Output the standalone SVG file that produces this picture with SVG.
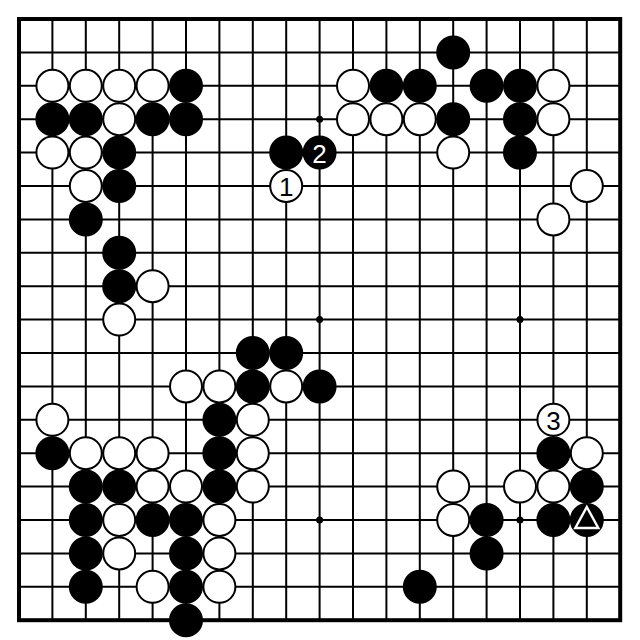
<svg xmlns="http://www.w3.org/2000/svg" width="640" height="640" viewBox="0 0 640 640">
<style>
.ln{stroke:#000;stroke-width:2;fill:none}
.bd{stroke:#000;stroke-width:4;fill:none}
.b{fill:#000;stroke:#000;stroke-width:2}
.w{fill:#fff;stroke:#000;stroke-width:2}
.t{font-family:"Liberation Sans","DejaVu Sans",sans-serif;font-size:26px;text-anchor:middle;dominant-baseline:central}
</style>
<rect width="640" height="640" fill="#fff"/>
<g id="board" transform="translate(19 19)">
<path class="ln" d="M0 33.4H601.2M0 66.8H601.2M0 100.2H601.2M0 133.6H601.2M0 167H601.2M0 200.4H601.2M0 233.8H601.2M0 267.2H601.2M0 300.6H601.2M0 334H601.2M0 367.4H601.2M0 400.8H601.2M0 434.2H601.2M0 467.6H601.2M0 501H601.2M0 534.4H601.2M0 567.8H601.2
M33.4 0V601.2M66.8 0V601.2M100.2 0V601.2M133.6 0V601.2M167 0V601.2M200.4 0V601.2M233.8 0V601.2M267.2 0V601.2M300.6 0V601.2M334 0V601.2M367.4 0V601.2M400.8 0V601.2M434.2 0V601.2M467.6 0V601.2M501 0V601.2M534.4 0V601.2M567.8 0V601.2"/>
<rect class="bd" x="0" y="0" width="601.2" height="601.2"/>
<g id="stars" fill="#000">
<circle cx="100.2" cy="100.2" r="3.5"/><circle cx="300.6" cy="100.2" r="3.5"/><circle cx="501" cy="100.2" r="3.5"/>
<circle cx="100.2" cy="300.6" r="3.5"/><circle cx="300.6" cy="300.6" r="3.5"/><circle cx="501" cy="300.6" r="3.5"/>
<circle cx="100.2" cy="501" r="3.5"/><circle cx="300.6" cy="501" r="3.5"/><circle cx="501" cy="501" r="3.5"/>
</g>
<g id="black-stones">
<circle class="b" cx="434.2" cy="33.4" r="16"/>
<circle class="b" cx="167" cy="66.8" r="16"/><circle class="b" cx="367.4" cy="66.8" r="16"/><circle class="b" cx="400.8" cy="66.8" r="16"/><circle class="b" cx="467.6" cy="66.8" r="16"/><circle class="b" cx="501" cy="66.8" r="16"/>
<circle class="b" cx="33.4" cy="100.2" r="16"/><circle class="b" cx="66.8" cy="100.2" r="16"/><circle class="b" cx="133.6" cy="100.2" r="16"/><circle class="b" cx="167" cy="100.2" r="16"/><circle class="b" cx="434.2" cy="100.2" r="16"/><circle class="b" cx="501" cy="100.2" r="16"/>
<circle class="b" cx="100.2" cy="133.6" r="16"/><circle class="b" cx="267.2" cy="133.6" r="16"/><circle class="b" cx="501" cy="133.6" r="16"/>
<circle class="b" cx="100.2" cy="167" r="16"/>
<circle class="b" cx="66.8" cy="200.4" r="16"/>
<circle class="b" cx="100.2" cy="233.8" r="16"/>
<circle class="b" cx="100.2" cy="267.2" r="16"/>
<circle class="b" cx="233.8" cy="334" r="16"/><circle class="b" cx="267.2" cy="334" r="16"/>
<circle class="b" cx="233.8" cy="367.4" r="16"/><circle class="b" cx="300.6" cy="367.4" r="16"/>
<circle class="b" cx="200.4" cy="400.8" r="16"/>
<circle class="b" cx="33.4" cy="434.2" r="16"/><circle class="b" cx="200.4" cy="434.2" r="16"/><circle class="b" cx="534.4" cy="434.2" r="16"/>
<circle class="b" cx="66.8" cy="467.6" r="16"/><circle class="b" cx="100.2" cy="467.6" r="16"/><circle class="b" cx="200.4" cy="467.6" r="16"/><circle class="b" cx="567.8" cy="467.6" r="16"/>
<circle class="b" cx="66.8" cy="501" r="16"/><circle class="b" cx="133.6" cy="501" r="16"/><circle class="b" cx="167" cy="501" r="16"/><circle class="b" cx="467.6" cy="501" r="16"/><circle class="b" cx="534.4" cy="501" r="16"/>
<circle class="b" cx="66.8" cy="534.4" r="16"/><circle class="b" cx="167" cy="534.4" r="16"/><circle class="b" cx="467.6" cy="534.4" r="16"/>
<circle class="b" cx="66.8" cy="567.8" r="16"/><circle class="b" cx="167" cy="567.8" r="16"/><circle class="b" cx="400.8" cy="567.8" r="16"/>
<circle class="b" cx="167" cy="601.2" r="16"/>
</g>
<g id="white-stones">
<circle class="w" cx="33.4" cy="66.8" r="16"/><circle class="w" cx="66.8" cy="66.8" r="16"/><circle class="w" cx="100.2" cy="66.8" r="16"/><circle class="w" cx="133.6" cy="66.8" r="16"/><circle class="w" cx="334" cy="66.8" r="16"/><circle class="w" cx="534.4" cy="66.8" r="16"/>
<circle class="w" cx="100.2" cy="100.2" r="16"/><circle class="w" cx="334" cy="100.2" r="16"/><circle class="w" cx="367.4" cy="100.2" r="16"/><circle class="w" cx="400.8" cy="100.2" r="16"/><circle class="w" cx="534.4" cy="100.2" r="16"/>
<circle class="w" cx="33.4" cy="133.6" r="16"/><circle class="w" cx="66.8" cy="133.6" r="16"/><circle class="w" cx="434.2" cy="133.6" r="16"/>
<circle class="w" cx="66.8" cy="167" r="16"/><circle class="w" cx="567.8" cy="167" r="16"/>
<circle class="w" cx="534.4" cy="200.4" r="16"/>
<circle class="w" cx="133.6" cy="267.2" r="16"/>
<circle class="w" cx="100.2" cy="300.6" r="16"/>
<circle class="w" cx="167" cy="367.4" r="16"/><circle class="w" cx="200.4" cy="367.4" r="16"/><circle class="w" cx="267.2" cy="367.4" r="16"/>
<circle class="w" cx="33.4" cy="400.8" r="16"/><circle class="w" cx="233.8" cy="400.8" r="16"/>
<circle class="w" cx="66.8" cy="434.2" r="16"/><circle class="w" cx="100.2" cy="434.2" r="16"/><circle class="w" cx="133.6" cy="434.2" r="16"/><circle class="w" cx="233.8" cy="434.2" r="16"/><circle class="w" cx="567.8" cy="434.2" r="16"/>
<circle class="w" cx="133.6" cy="467.6" r="16"/><circle class="w" cx="167" cy="467.6" r="16"/><circle class="w" cx="233.8" cy="467.6" r="16"/><circle class="w" cx="434.2" cy="467.6" r="16"/><circle class="w" cx="501" cy="467.6" r="16"/><circle class="w" cx="534.4" cy="467.6" r="16"/>
<circle class="w" cx="100.2" cy="501" r="16"/><circle class="w" cx="200.4" cy="501" r="16"/><circle class="w" cx="434.2" cy="501" r="16"/>
<circle class="w" cx="100.2" cy="534.4" r="16"/><circle class="w" cx="200.4" cy="534.4" r="16"/>
<circle class="w" cx="133.6" cy="567.8" r="16"/><circle class="w" cx="200.4" cy="567.8" r="16"/>
</g>
<g id="move-1"><circle class="w" cx="267.2" cy="167" r="16"/><text class="t" x="267.2" y="168" fill="#000">1</text></g>
<g id="move-2"><circle class="b" cx="300.6" cy="133.6" r="16"/><text class="t" x="300.6" y="134.6" fill="#fff">2</text></g>
<g id="move-3"><circle class="w" cx="534.4" cy="400.8" r="16"/><text class="t" x="534.4" y="401.8" fill="#000">3</text></g>
<g id="marked-stone"><circle class="b" cx="567.8" cy="501" r="16"/><path d="M567.8 488L579.3 509H556.3Z" fill="none" stroke="#fff" stroke-width="2.4" stroke-linejoin="miter"/></g>
</g>
</svg>
